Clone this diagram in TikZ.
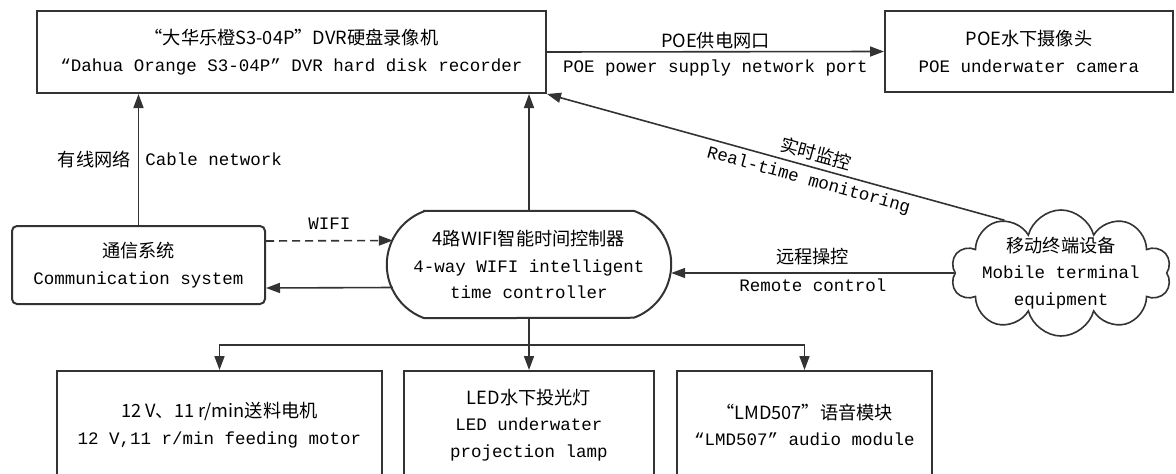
\documentclass[tikz,border=0pt]{standalone}
\usepackage{fontspec}
\setmainfont{Liberation Mono}
\newfontfamily\cjk[Scale=1.04]{Noto Sans CJK SC}
\usetikzlibrary{arrows.meta,shapes.symbols}

\begin{document}
\begin{tikzpicture}[x=1pt,y=-1pt,
    font=\fontsize{17.5}{26.5}\selectfont,
    box/.style={draw=black!80, line width=2pt, align=center, inner sep=0pt},
    line/.style={draw=black!80, line width=1.6pt},
    link/.style={line, -{Triangle[length=14pt,width=10pt]}},
    lbl/.style={inner sep=2pt}]
    \useasboundingbox (0,0) rectangle (1176,474);
    \clip (0,0) rectangle (1176,474);

    \node [box, minimum width=509, minimum height=82] (dvr) at (291.5,52)
        {{\cjk “大华乐橙S3-04P”DVR硬盘录像机}\\“Dahua Orange S3-04P” DVR hard disk recorder};
    \node [box, minimum width=288, minimum height=81] (cam) at (1029,51.5)
        {{\cjk POE水下摄像头}\\POE underwater camera};
    \node [box, rounded corners=5pt, minimum width=253, minimum height=78] (comm) at (138.5,265)
        {{\cjk 通信系统}\\Communication system};
    \node [align=center, inner sep=0pt, minimum width=284, minimum height=107] (ctrl) at (529,264.5)
        {{\cjk 4路WIFI智能时间控制器}\\4-way WIFI intelligent\\time controller};
    \draw [line, line width=2pt] ([xshift=37.4]ctrl.north west) -- ([xshift=-37.4]ctrl.north east)
        arc [start angle=70, end angle=-70, radius=56.9pt] -- ([xshift=37.4]ctrl.south west)
        arc [start angle=250, end angle=110, radius=56.9pt] -- cycle;
    \node [cloud, cloud puffs=10, aspect=1.75, line, minimum width=220, minimum height=126] (mobile) at (1061,273) {};
    \node [align=center, inner sep=0pt] (mobiletxt) at (mobile.center)
        {{\cjk 移动终端设备}\\Mobile terminal\\equipment};
    \node [box, minimum width=325, minimum height=108] (motor) at (219.5,425)
        {{\cjk 12 V、11 r/min送料电机}\\12 V,11 r/min feeding motor};
    \node [box, minimum width=250, minimum height=108] (lamp) at (529,425)
        {{\cjk LED水下投光灯}\\LED underwater\\projection lamp};
    \node [box, minimum width=255, minimum height=108] (audio) at (804.5,425)
        {{\cjk “LMD507”语音模块}\\“LMD507” audio module};

    % links to the recorder
    \draw [link] (dvr.east) -- (cam.west)
        node [lbl, midway, yshift=11] {\cjk POE供电网口}
        node [lbl, midway, yshift=-16] {POE power supply network port};
    \draw [link] (comm.north) -- (comm.north |- dvr.south)
        node [lbl, midway, left=5pt] {\cjk 有线网络}
        node [lbl, midway, right=4pt] {Cable network};
    \draw [link] (ctrl.north) -- (ctrl.north |- dvr.south);
    \draw [link] (mobile.137) -- (dvr.south east)
        node [lbl, pos=0.42, sloped, above=3pt] {\cjk 实时监控}
        node [lbl, pos=0.42, sloped, below=3pt] {Real-time monitoring};

    % controller links
    \draw [link, dashed, dash pattern=on 8pt off 5pt] ([yshift=24]comm.east) -- ([yshift=24,xshift=6]ctrl.west)
        node [lbl, midway, yshift=17] {WIFI};
    \draw [link] ([yshift=-23,xshift=6]ctrl.west) -- ([yshift=-23]comm.east);
    \draw [link] (mobile.west) -- (mobile.west -| ctrl.east)
        node [lbl, midway, yshift=16] {\cjk 远程操控}
        node [lbl, midway, yshift=-12] {Remote control};

    \coordinate (split) at (ctrl.south |- 0,345);
    \draw [line] (ctrl.south) -- (split);
    \draw [link] (split) -| (motor.north);
    \draw [link] (split) -- (lamp.north);
    \draw [link] (split) -| (audio.north);
\end{tikzpicture}
\end{document}
